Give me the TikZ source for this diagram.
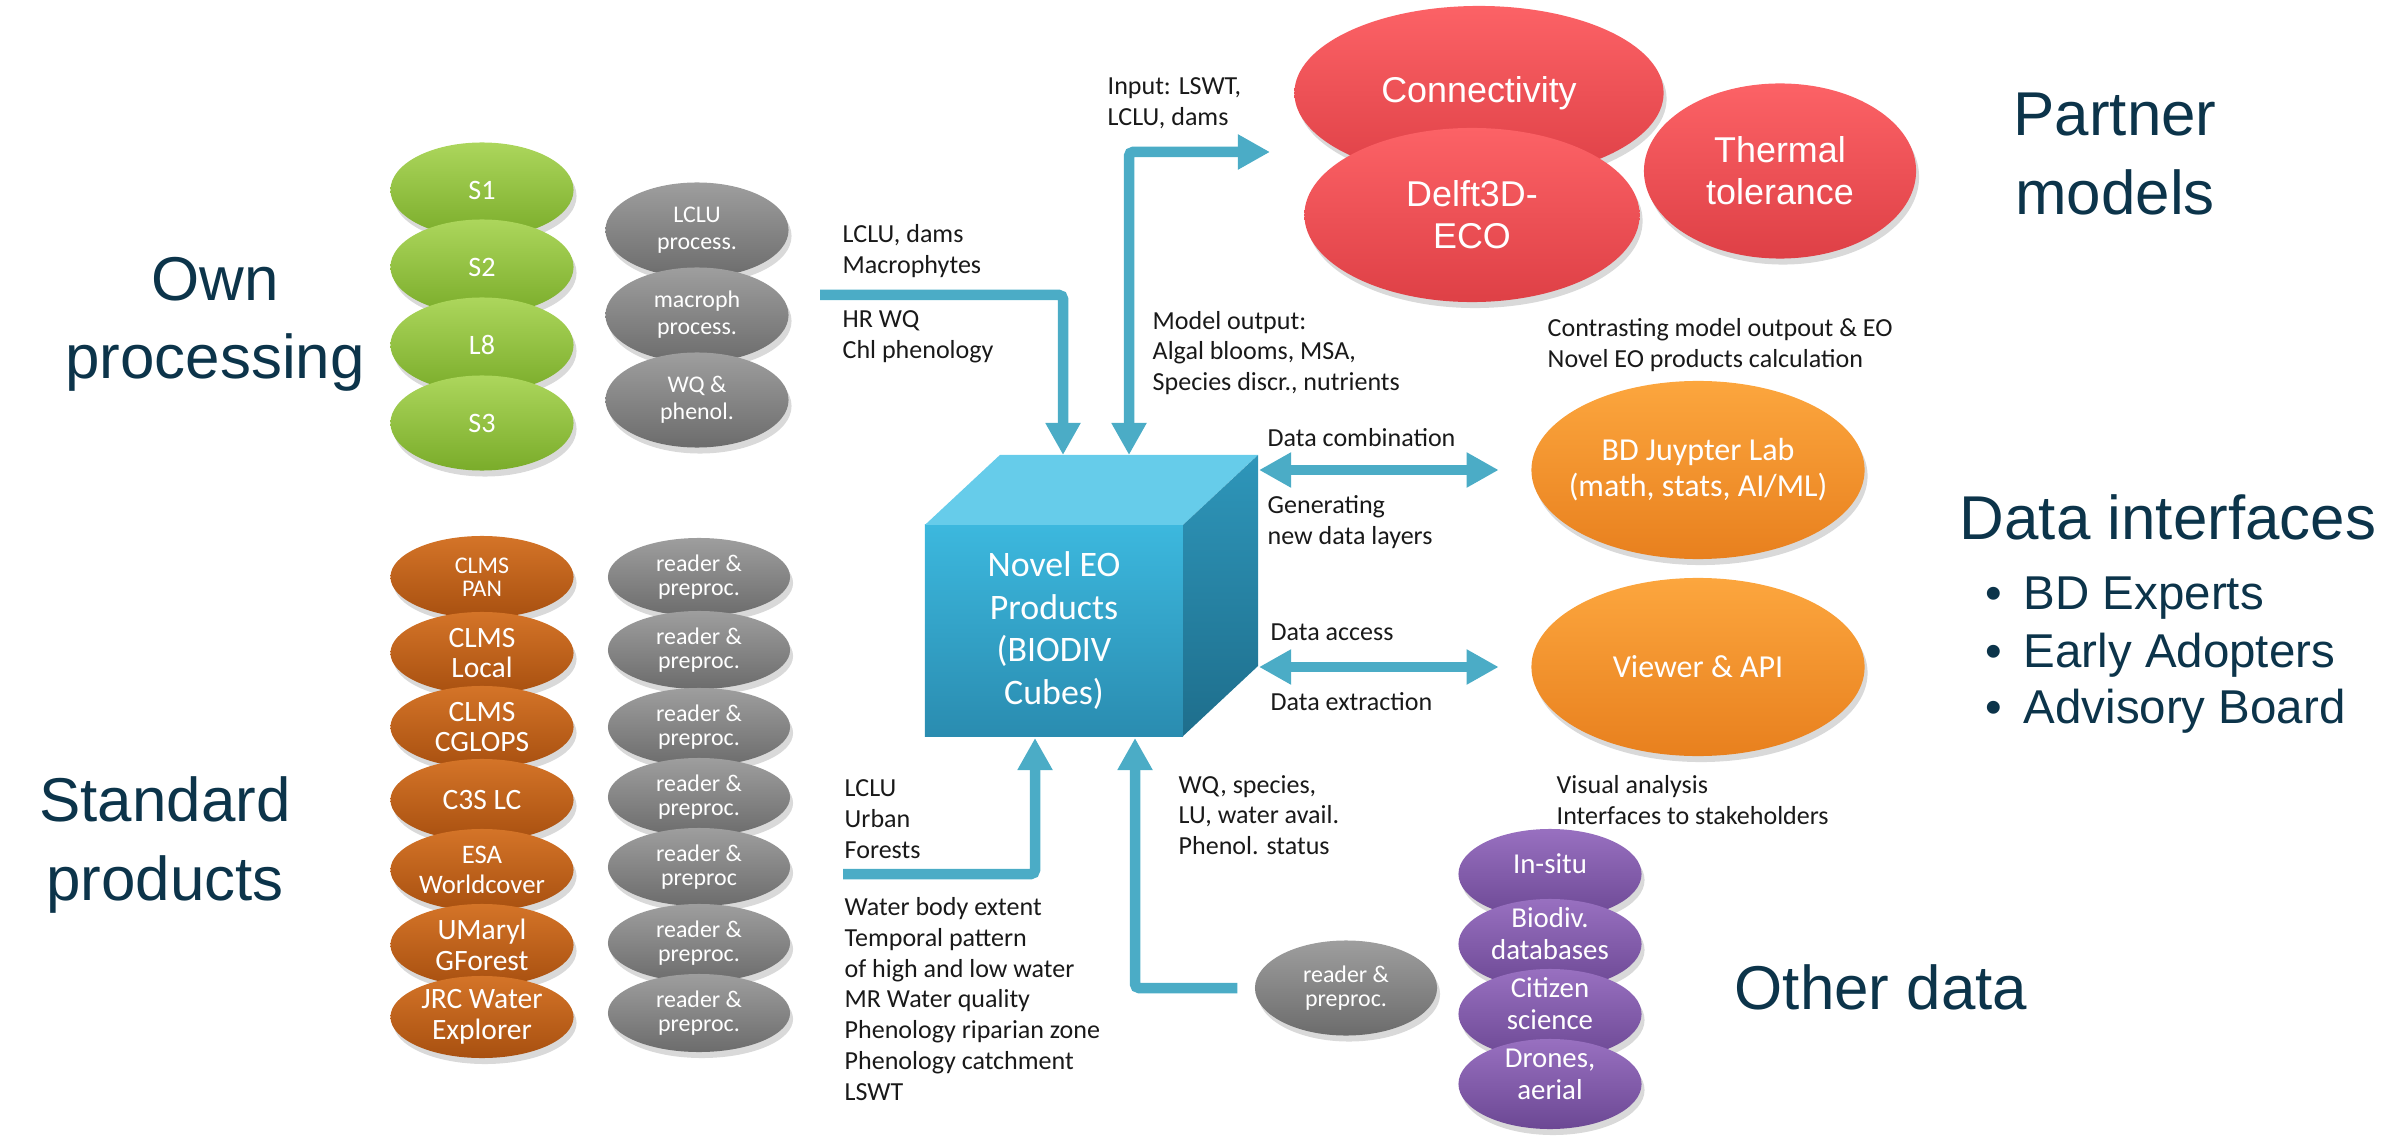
\documentclass[tikz,border=0pt]{standalone}
\usepackage{fontspec}
\setmainfont{Carlito}
\newfontfamily\arialfont{Liberation Sans}
\usetikzlibrary{arrows.meta}
\usetikzlibrary{calc}
\usetikzlibrary{positioning}
\usetikzlibrary{shapes.geometric}
\usetikzlibrary{shadows}
\definecolor{flowc}{RGB}{75,172,198}
\definecolor{headc}{RGB}{12,52,74}
\definecolor{notec}{RGB}{25,25,25}
\definecolor{greenA}{RGB}{172,214,92}
\definecolor{greenB}{RGB}{122,172,42}
\definecolor{grayA}{RGB}{158,158,158}
\definecolor{grayB}{RGB}{108,108,108}
\definecolor{brownA}{RGB}{212,116,40}
\definecolor{brownB}{RGB}{168,80,16}
\definecolor{redA}{RGB}{252,98,102}
\definecolor{redB}{RGB}{222,64,70}
\definecolor{orA}{RGB}{252,166,62}
\definecolor{orB}{RGB}{232,128,30}
\definecolor{purA}{RGB}{152,112,192}
\definecolor{purB}{RGB}{108,72,148}
\definecolor{cubeA}{RGB}{60,184,222}
\definecolor{cubeB}{RGB}{42,140,176}
\definecolor{cubeT}{RGB}{102,204,234}
\definecolor{cubeRA}{RGB}{46,150,186}
\definecolor{cubeRB}{RGB}{30,110,140}
% text set a little higher than the middle of its ellipse
\newcommand\liftup[1]{\raisebox{0.07cm}[\height][\depth]{\begin{tabular}{@{}c@{}}#1\end{tabular}}}

\begin{document}
\begin{tikzpicture}[x=0.01cm,y=-0.01cm]
        \tikzset{blob/.style = {shape=ellipse,inner sep=-1.5pt,align=center,text=white,drop shadow={shadow xshift=0.3mm,shadow yshift=-0.6mm,opacity=0.3}}}
        \tikzset{own/.style = {blob,minimum width=1.83cm,minimum height=0.95cm,top color=greenA,bottom color=greenB,font=\fontsize{8pt}{9pt}\selectfont}}
        \tikzset{proc/.style = {blob,minimum width=1.83cm,minimum height=0.95cm,top color=grayA,bottom color=grayB,font=\fontsize{6.8pt}{7.7pt}\selectfont}}
        \tikzset{std/.style = {blob,minimum width=1.83cm,minimum height=0.82cm,top color=brownA,bottom color=brownB,font=\fontsize{8.4pt}{8.8pt}\selectfont}}
        \tikzset{reader/.style = {blob,minimum width=1.82cm,minimum height=0.78cm,top color=grayA,bottom color=grayB,font=\fontsize{6.8pt}{6.7pt}\selectfont}}
        \tikzset{model/.style = {blob,minimum height=1.74cm,top color=redA,bottom color=redB,font=\arialfont\fontsize{10.2pt}{12pt}\selectfont}}
        \tikzset{iface/.style = {blob,inner xsep=-0.4cm,minimum width=3.33cm,minimum height=1.78cm,top color=orA,bottom color=orB,font=\fontsize{9.1pt}{10.2pt}\selectfont}}
        \tikzset{other/.style = {blob,minimum width=1.83cm,minimum height=0.9cm,top color=purA,bottom color=purB,font=\fontsize{8.2pt}{9.1pt}\selectfont}}
        \tikzset{cubefront/.style = {rectangle,outer sep=0pt,minimum width=2.58cm,minimum height=2.11cm,top color=cubeA,bottom color=cubeB,text=white,align=center,font=\fontsize{10.2pt}{12.2pt}\selectfont}}
        \tikzset{flow/.style = {-{Triangle[width=0.33cm,length=0.32cm]},line width=0.105cm,color=flowc,rounded corners=0.4mm}}
        \tikzset{flow2/.style = {{Triangle[width=0.33cm,length=0.32cm]}-{Triangle[width=0.33cm,length=0.32cm]},line width=0.105cm,color=flowc,rounded corners=0.4mm}}
        \tikzset{note/.style = {anchor=west,align=left,inner sep=0pt,text=notec,font=\fontsize{7.4pt}{8.73pt}\selectfont}}
        \tikzset{head/.style = {align=center,inner sep=0pt,text=headc,font=\arialfont\fontsize{17.6pt}{22.2pt}\selectfont}}
        \tikzset{bullet/.style = {anchor=base west,inner sep=0pt,text=headc,font=\arialfont\fontsize{13.5pt}{16pt}\selectfont}}

        \useasboundingbox (0,0) rectangle (2403,1140);

        % section titles
        \node[head] (hown) at (215,324) {Own\\processing};
        \node[head] (hstd) at (165,845) {Standard\\products};
        \node[head] (hmod) at (2115,154) {Partner\\models};
        \node[head,anchor=base] (hitf) at (2168,540) {Data interfaces};
        \node[bullet] (bul0) at (1985,610) {\makebox[0.38cm][l]{\textbullet}BD Experts};
        \node[bullet] (bul1) at (1985,667) {\makebox[0.38cm][l]{\textbullet}Early Adopters};
        \node[bullet] (bul2) at (1985,723) {\makebox[0.38cm][l]{\textbullet}Advisory Board};
        \node[head] (hoth) at (1881,987) {Other data};

        % own processing
        \node[own] (own0) at (482,190) {S1}; \node[own] (own1) at (482,267) {S2};
        \node[own] (own2) at (482,345) {L8}; \node[own] (own3) at (482,423) {S3};
        \node[proc] (ownp0) at (697,230) {LCLU\\process.}; \node[proc] (ownp1) at (697,315) {macroph\\process.};
        \node[proc] (ownp2) at (697,400) {WQ \&\\phenol.};

        % standard products
        \node[std,font=\fontsize{6.8pt}{6.6pt}\selectfont] (std0) at (482,577) {CLMS\\PAN};
        \node[std] (std1) at (482,653) {CLMS\\Local};
        \node[std] (std2) at (482,727) {CLMS\\CGLOPS};
        \node[std] (std3) at (482,800) {C3S LC};
        \node[std,font=\fontsize{7.6pt}{8.4pt}\selectfont] (std4) at (482,870) {ESA\\Worldcover};
        \node[std] (std5) at (482,945) {UMaryl\\GForest};
        \node[std] (std6) at (482,1017) {JRC Water\\Explorer};
        \node[reader] (stdp0) at (699,577) {reader \&\\preproc.}; \node[reader] (stdp1) at (699,650) {reader \&\\preproc.};
        \node[reader] (stdp2) at (699,727) {reader \&\\preproc.}; \node[reader] (stdp3) at (699,797) {reader \&\\preproc.};
        \node[reader] (stdp4) at (699,867) {reader \&\\preproc}; \node[reader] (stdp5) at (699,943) {reader \&\\preproc.};
        \node[reader] (stdp6) at (699,1013) {reader \&\\preproc.};

        % partner models
        \node[model,minimum width=3.69cm] (mod0) at (1479,93) {Connectivity};
        \node[model,minimum width=3.35cm] (mod1) at (1472,215) {Delft3D-\\ECO};
        \node[model,minimum width=2.72cm,minimum height=1.75cm] (mod2) at (1780,171) {Thermal\\tolerance};

        % data interfaces
        \node[iface] (itf0) at (1698,470) {BD Juypter Lab\\(math, stats, AI/ML)};
        \node[iface] (itf1) at (1698,667) {Viewer \& API};

        % other data
        \node[other] (oth0) at (1550,874) {\liftup{In-situ}}; \node[other] (oth1) at (1550,944) {\liftup{Biodiv.\\databases}};
        \node[other] (oth2) at (1550,1014) {\liftup{Citizen\\science}}; \node[other] (oth3) at (1550,1084) {\liftup{Drones,\\aerial}};
        \node[reader,minimum height=0.95cm] (othp) at (1346,988) {reader \&\\preproc.};

        % cube
        \node[cubefront] (cube) at (1054,630.5) {Novel EO\\Products\\(BIODIV\\Cubes)};
        \fill[cubeT] (cube.north west) -- ++(75,-70) -- ++(258,0) -- (cube.north east) -- cycle;
        \shade[top color=cubeRA,bottom color=cubeRB] (cube.north east) -- ++(75,-70) -- ++(0,211) -- (cube.south east) -- cycle;

        % arrows
        \coordinate (t1) at (1063,455); \coordinate (t2) at (1129,455); \coordinate (t3) at (1035,738); \coordinate (t4) at (1135,738);
        \coordinate (r1) at (1259,470); \coordinate (r2) at (1259,667);
        \coordinate (in1) at (820,295); \coordinate (in3) at (843,874); \coordinate (tomod) at (1270,152);
        \draw[flow] (in1) -| (t1);
        \draw[flow2] (t2) |- (tomod);
        \draw[flow] (in3) -| (t3);
        \draw[flow,shorten <=0.17cm] (othp.west) -| (t4);
        \draw[flow2,shorten >=0.32cm] (r1) -- (itf0.west);
        \draw[flow2,shorten >=0.32cm] (r2) -- (itf1.west);

        % labels
        \node[note] (lbl0) at (842,251) {LCLU, dams\\Macrophytes};
        \node[note] (lbl1) at (842,337) {HR WQ\\Chl phenology};
        \node[note] (lbl2) at (1107,103) {Input: LSWT,\\LCLU, dams};
        \node[note] (lbl3) at (1152,353) {Model output:\\Algal blooms, MSA,\\Species discr., nutrients};
        \node[note] (lbl4) at (1547,345) {Contrasting model outpout \& EO\\Novel EO products calculation};
        \node[note] (lbl5) at (1267,438) {Data combination};
        \node[note] (lbl6) at (1267,522) {Generating\\new data layers};
        \node[note] (lbl7) at (1270,632) {Data access};
        \node[note] (lbl8) at (1270,702) {Data extraction};
        \node[note] (lbl9) at (1556,800) {Visual analysis\\Interfaces to stakeholders};
        \node[note] (lbl10) at (1178,815) {WQ, species,\\LU, water avail.\\Phenol. status};
        \node[note] (lbl11) at (844,819) {LCLU\\Urban\\Forests};
        \node[note] (lbl12) at (844,999) {Water body extent\\Temporal pattern\\of high and low water\\MR Water quality\\Phenology riparian zone\\Phenology catchment\\LSWT};
\end{tikzpicture}
\end{document}
